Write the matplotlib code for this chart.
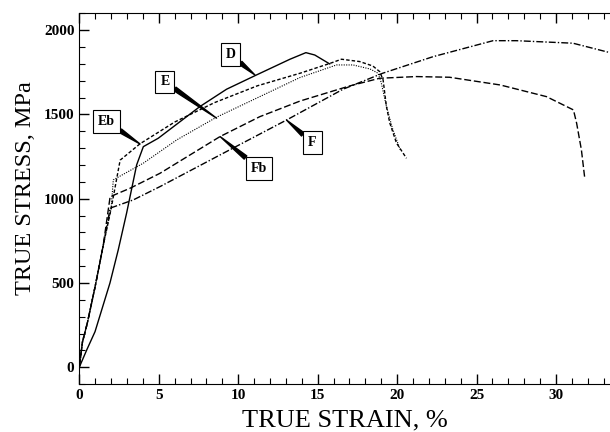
import matplotlib
matplotlib.use("Agg")
import matplotlib.pyplot as plt
from matplotlib.ticker import MultipleLocator

# true strain (%) / true stress (MPa)
d_x = [0, 0.47, 0.99, 1.93, 2.45, 2.98, 3.61, 4.03, 4.97, 7.59, 9.27, 11.16, 13.26, 14.26, 14.82, 15.76]
d_y = [0, 103, 211, 500, 696, 916, 1201, 1309, 1359, 1547, 1650, 1735, 1828, 1867, 1853, 1800]

eb_x = [0, 0.2, 0.5, 1.0, 1.5, 2.0, 2.57, 3.82, 6.0, 8.5, 11.2, 13.9, 15.8, 16.5, 17.65, 18.47, 18.91, 19.12, 19.33, 19.54, 19.96, 20.59]
eb_y = [0, 150, 260, 480, 720, 940, 1229, 1326, 1455, 1570, 1670, 1745, 1804, 1828, 1814, 1788, 1754, 1705, 1547, 1450, 1331, 1240]

e_x = [0, 0.2, 0.5, 1.0, 1.5, 2.0, 2.14, 4.03, 6.13, 8.64, 11.36, 13.88, 16.19, 17.23, 18.3, 18.8, 19.0, 19.3, 19.7, 20.2]
e_y = [0, 150, 260, 480, 720, 940, 1112, 1211, 1349, 1484, 1606, 1719, 1794, 1794, 1770, 1745, 1690, 1560, 1420, 1290]

fb_x = [0, 0.2, 0.5, 1.0, 1.5, 1.94, 3.19, 5.08, 8.86, 11.36, 13.9, 17.0, 18.9, 21.2, 23.3, 26.5, 29.4, 31.1, 31.3, 31.6, 31.8]
fb_y = [0, 150, 260, 480, 720, 1012, 1062, 1151, 1369, 1487, 1580, 1669, 1715, 1725, 1721, 1675, 1606, 1527, 1448, 1290, 1131]

f_x = [0, 0.2, 0.5, 1.0, 1.5, 1.94, 3.4, 5.08, 8.86, 13.04, 16.6, 19.1, 22.26, 26.04, 27.5, 31.07, 33.4]
f_y = [0, 150, 260, 480, 720, 944, 993, 1072, 1260, 1467, 1650, 1745, 1843, 1938, 1938, 1923, 1867]

# label text, box centre, point on curve
labels = ["D", "E", "Eb", "Fb", "F"]
label_pos = [(9.51, 1856), (5.39, 1693), (1.72, 1458), (11.3, 1179), (14.67, 1332)]
label_tip = [(11.05, 1735), (8.64, 1478), (3.82, 1325), (8.86, 1369), (13.04, 1467)]

plt.rcParams["font.family"] = ["Liberation Serif", "DejaVu Serif"]

fig = plt.figure(figsize=(6.1, 4.32), dpi=100)
ax = fig.add_axes([0.130, 0.111, 0.870, 0.858])

ax.plot(d_x, d_y, color="black", lw=1.0, ls="-")
ax.plot(eb_x, eb_y, color="black", lw=1.0, ls=(0, (2.5, 1.5)))
ax.plot(e_x, e_y, color="black", lw=0.8, ls=(0, (1, 1.2)))
ax.plot(fb_x, fb_y, color="black", lw=1.0, ls=(0, (5, 2)))
ax.plot(f_x, f_y, color="black", lw=1.0, ls=(0, (5, 1.5, 1, 1.5)))

for txt, pos, tip in zip(labels, label_pos, label_tip):
    ax.annotate(txt, xy=tip, xytext=pos, ha="center", va="center",
                fontsize=10, fontweight="bold",
                bbox=dict(boxstyle="square,pad=0.35", fc="white", ec="black", lw=0.8),
                arrowprops=dict(arrowstyle="wedge,tail_width=0.3", fc="black", ec="black",
                                shrinkA=0, shrinkB=0))

ax.set_xlim(0, 33.4)
ax.set_ylim(-100, 2100)
ax.xaxis.set_major_locator(MultipleLocator(5))
ax.xaxis.set_minor_locator(MultipleLocator(1))
ax.yaxis.set_major_locator(MultipleLocator(500))
ax.yaxis.set_minor_locator(MultipleLocator(100))
ax.tick_params(which="both", direction="in", top=True, right=False)
ax.tick_params(which="major", length=7, width=1)
ax.tick_params(which="minor", length=4, width=0.8)
ax.spines["right"].set_visible(False)
for lab in ax.get_xticklabels() + ax.get_yticklabels():
    lab.set_fontweight("bold")
    lab.set_fontsize(11)

ax.set_xlabel("TRUE STRAIN, %", fontsize=19)
ax.set_ylabel("TRUE STRESS, MPa", fontsize=17.5)
ax.xaxis.set_label_coords(0.5, -0.068)
ax.yaxis.set_label_coords(-0.082, 0.529)

fig.savefig("out.png", dpi=100)
